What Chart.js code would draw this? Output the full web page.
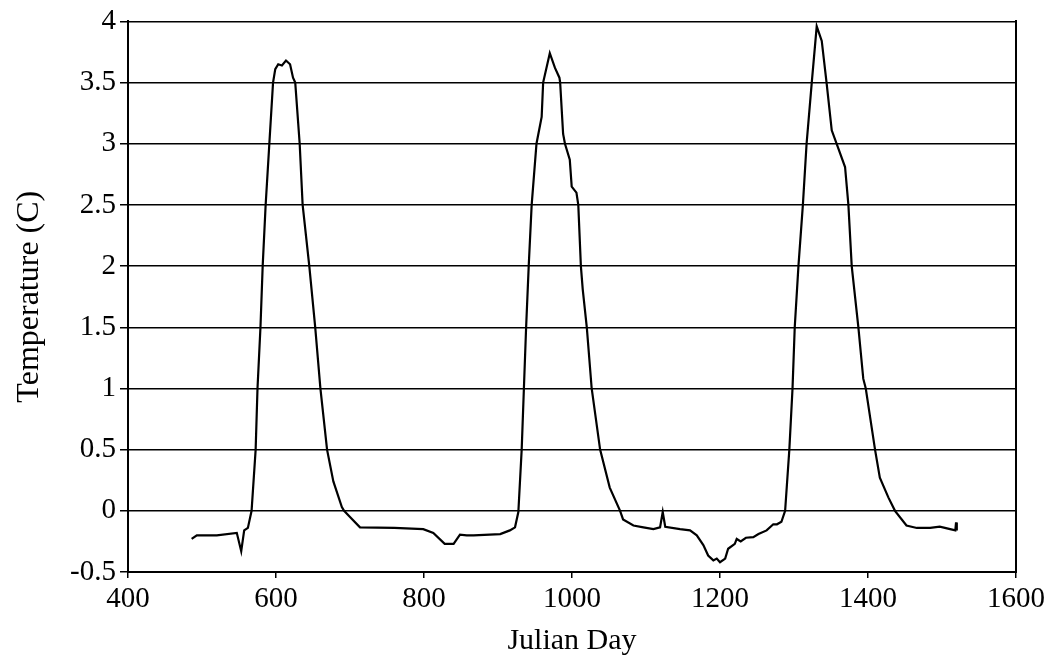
<!DOCTYPE html>
<html>
<head>
<meta charset="utf-8">
<title>Temperature vs Julian Day</title>
<script src="https://cdn.jsdelivr.net/npm/chart.js@4/dist/chart.umd.min.js"></script>
<style>
  html, body { margin: 0; padding: 0; background: #fff; }
  #wrap { width: 1056px; height: 661px; }
</style>
</head>
<body>
<div id="wrap"><canvas id="tempChart" width="1056" height="661"></canvas></div>
<script>
// temperature record, Julian day vs degrees C
const days = [
  486, 493, 520, 547, 553, 557, 562, 567,
  572.5, 575, 579, 582, 586, 591, 596, 599, 603, 608, 613.5, 619, 623,
  626, 632, 636, 645, 653, 660, 669, 677.5, 689, 692,
  700, 713.5, 760, 799, 812.6, 828, 840, 848.6, 857.7, 867, 903, 916, 923, 927.5,
  932, 935, 938, 941.5, 945.5, 952, 959, 961, 970, 977, 983, 984, 988, 990.5,
  997, 999.6, 1006, 1008.5, 1012, 1014.5, 1020, 1026.6, 1038, 1051, 1065,
  1069, 1083, 1096.5, 1110, 1119, 1122.6, 1126, 1146, 1159.5, 1168.6, 1177.5,
  1184, 1191, 1195.6, 1200, 1207, 1211, 1220, 1222.6, 1228, 1235, 1245, 1252,
  1263, 1272, 1277, 1283, 1288,
  1293.7, 1298, 1301, 1306, 1312, 1317, 1324, 1330.7, 1337.5, 1344, 1351, 1360,
  1369, 1373.5, 1378, 1387, 1393.6, 1397, 1403, 1409.5, 1416, 1427.5, 1436.5,
  1452, 1466, 1484, 1497, 1511, 1518, 1519, 1520
];
const temps = [
  -0.23, -0.20, -0.20, -0.18, -0.33, -0.16, -0.14, 0.0,
  0.5, 1.0, 1.5, 2.0, 2.5, 3.0, 3.5, 3.61, 3.65, 3.64, 3.68, 3.65, 3.54,
  3.5, 3.0, 2.5, 2.0, 1.5, 1.0, 0.5, 0.24, 0.03, 0.0,
  -0.05, -0.135, -0.14, -0.15, -0.18, -0.27, -0.27, -0.195, -0.20, -0.20, -0.19, -0.16, -0.135, -0.01,
  0.5, 1.0, 1.5, 2.0, 2.5, 3.0, 3.22, 3.5, 3.74, 3.62, 3.54, 3.5, 3.08, 3.0,
  2.87, 2.65, 2.6, 2.5, 2.0, 1.81, 1.5, 1.0, 0.5, 0.19, 0.0,
  -0.07, -0.12, -0.135, -0.15, -0.135, -0.01, -0.13, -0.15, -0.16, -0.20, -0.28,
  -0.365, -0.405, -0.39, -0.42, -0.39, -0.31, -0.27, -0.23, -0.25, -0.22, -0.215, -0.19,
  -0.16, -0.11, -0.11, -0.09, 0.0,
  0.5, 1.0, 1.5, 2.0, 2.5, 3.0, 3.5, 3.96, 3.84, 3.5, 3.11, 2.96,
  2.81, 2.5, 2.0, 1.5, 1.08, 1.0, 0.76, 0.5, 0.27, 0.11, 0.0,
  -0.12, -0.14, -0.14, -0.13, -0.15, -0.16, -0.095, -0.16
];

const xTitle = 'Julian Day';
const yTitle = 'Temperature (C)';

const points = days.map((d, i) => ({ x: d, y: temps[i] }));
const serif = "'Liberation Serif', 'DejaVu Serif', serif";
// plain numbers: "4" not "4.0", "1000" not "1,000"
const plain = (v) => String(Math.round(v * 100) / 100);

new Chart(document.getElementById('tempChart'), {
  type: 'line',
  data: {
    datasets: [{
      data: points,
      borderColor: '#000',
      borderWidth: 2.2,
      pointRadius: 0,
      tension: 0,
      fill: false,
    }],
  },
  options: {
    responsive: false,
    animation: false,
    layout: { padding: { left: 0, right: 40, top: 17, bottom: 0 } },
    plugins: { legend: { display: false }, tooltip: { enabled: false } },
    scales: {
      x: {
        type: 'linear',
        min: 400,
        max: 1600,
        afterFit: (s) => { s.height = 89; },
        ticks: { stepSize: 200, color: '#000', padding: 4, maxRotation: 0, callback: plain, font: { family: serif, size: 29 } },
        grid: { drawOnChartArea: false, color: '#000', tickLength: 6, lineWidth: 1.5 },
        border: { color: '#000', width: 2 },
        title: { display: true, text: xTitle, color: '#000', padding: { top: 0, bottom: 2 }, font: { family: serif, size: 30 } },
      },
      y: {
        min: -0.5,
        max: 4,
        afterFit: (s) => { s.width = 128; },
        ticks: { stepSize: 0.5, color: '#000', padding: 4, callback: plain, font: { family: serif, size: 29 } },
        grid: { color: '#000', lineWidth: 1.5, tickLength: 8 },
        border: { color: '#000', width: 2 },
        title: { display: true, text: yTitle, color: '#000', padding: { top: 10, bottom: 0 }, font: { family: serif, size: 32 } },
      },
      yRight: {
        position: 'right',
        min: -0.5,
        max: 4,
        afterFit: (s) => { s.width = 0; },
        ticks: { display: false },
        grid: { display: false },
        border: { color: '#000', width: 2 },
      },
    },
  },
});
</script>
</body>
</html>
